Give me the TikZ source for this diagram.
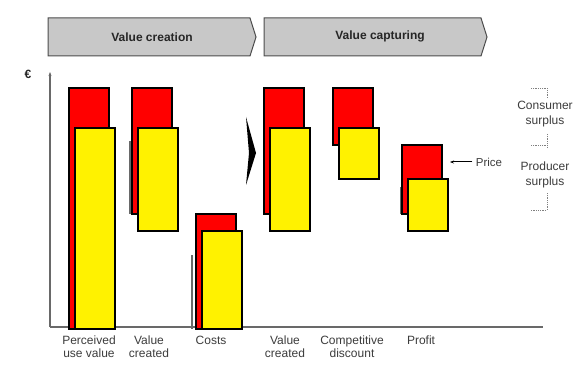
\documentclass[tikz,border=0pt]{standalone}
\usepackage{fontspec}
\setmainfont{Liberation Sans}
\usetikzlibrary{arrows.meta}
\definecolor{hdrgray}{RGB}{200,200,200}
\definecolor{txtgray}{RGB}{60,60,60}
\definecolor{axisgray}{RGB}{105,105,105}

\begin{document}
\begin{tikzpicture}[x=1pt, y=-1pt, >={Stealth[length=4pt,width=3pt]},
  header/.style={draw=black!70, fill=hdrgray, line width=1pt},
  headtext/.style={font=\bfseries\fontsize{12}{14}\selectfont, text=black!85},
  barlabel/.style={align=center, anchor=north, inner sep=0pt,
                   font=\fontsize{12}{13}\selectfont, text=txtgray},
  redbar/.style={draw=black, fill=red, line width=1.5pt},
  yellowbar/.style={draw=black, fill=yellow, line width=1.5pt},
  ghost/.style={draw=axisgray, line width=1.5pt},
  bracket/.style={draw=gray, densely dotted, line width=0.8pt},
]
\useasboundingbox (0,0) rectangle (583,374);

% phase headers
\draw[header] (48,18) -- (250,18) -- (256,37) -- (250,56) -- (48,56) -- cycle;
\draw[header] (264,18) -- (481,18) -- (487,37) -- (481,56) -- (264,56) -- cycle;
\node[headtext] (creation) at (152,37) {Value creation};
\node[headtext] (capturing) at (380,36) {Value capturing};

% axes
\node[font=\bfseries\fontsize{12}{14}\selectfont, text=black!85] (euro) at (28,74) {€};
\draw[axisgray, line width=1.2pt, ->] (50,327) -- (50,72);
\draw[axisgray, line width=1.2pt] (50,327) -- (543,327);

% faint edges left of some bars
\draw[ghost] (130,141) -- (130,214);
\draw[ghost] (192,255) -- (192,329);
\draw[ghost] (401,187) -- (401,214);

% bars: red block, yellow block on top of it
\foreach \bx/\rt/\rb/\yt/\yb in {69/88/329/128/329, 132/88/214/128/231,
    196/214/329/231/329, 264/88/214/128/231, 333/88/145/128/179,
    402/145/214/179/231}
{
  \draw[redbar] (\bx,\rt) rectangle (\bx+40,\rb);
  \draw[yellowbar] (\bx+6,\yt) rectangle (\bx+46,\yb);
}

% step between the two phases
\fill[black] (246,117) -- (256,153) -- (246,185) -- (249,153) -- cycle;

% bar labels
\node[barlabel] (perceived) at (89,336) {Perceived\\use value};
\node[barlabel] (created1) at (149,336) {Value\\created};
\node[barlabel] (costs) at (211,336) {Costs};
\node[barlabel] (created2) at (285,336) {Value\\created};
\node[barlabel] (discount) at (352,336) {Competitive\\discount};
\node[barlabel] (profit) at (421,336) {Profit};

% price marker
\node[font=\fontsize{11.5}{13}\selectfont, text=txtgray] (price) at (489,162) {Price};
\coordinate (pricetip) at (450,162);
\draw[black, line width=1pt, ->] (price.west) -- (pricetip);

% surplus brackets
\draw[bracket] (531,88) -- (547,88) -- (547,98);
\node[barlabel, font=\fontsize{12}{14.5}\selectfont] (consumer) at (545,101) {Consumer\\surplus};
\draw[bracket] (547,134) -- (547,148);
\draw[bracket] (531,145) -- (547,145);
\node[barlabel, font=\fontsize{12}{14.5}\selectfont] (producer) at (545,162) {Producer\\surplus};
\draw[bracket] (547,193) -- (547,210) -- (531,210);
\end{tikzpicture}
\end{document}
